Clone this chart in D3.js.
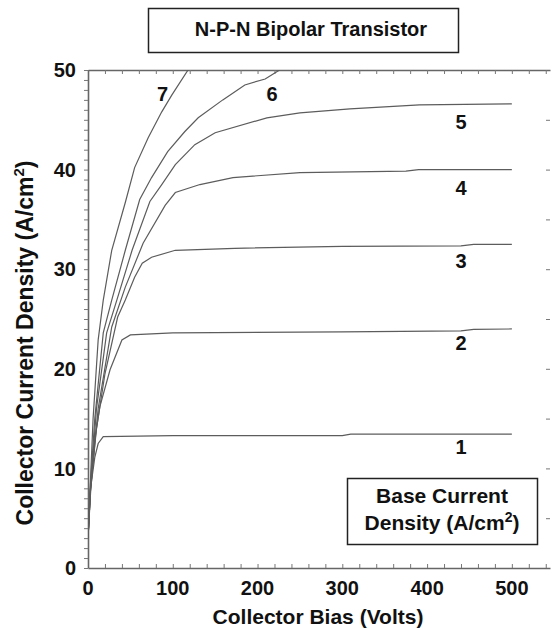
<!DOCTYPE html>
<html>
<head>
<meta charset="utf-8">
<script src="https://cdn.jsdelivr.net/npm/d3@7"></script>
<style>
  html, body { margin: 0; padding: 0; background: #fff; }
  svg { display: block; }
  text { font-family: "Liberation Sans", Arial, sans-serif; font-weight: bold; fill: #111; }
</style>
</head>
<body>
<svg id="chart" width="552" height="630"></svg>
<script>
// ---------- data (Collector Bias V, Collector Current Density A/cm2) ----------
const curve1 = [[0,3],[3,8],[8,11.1],[12,12.5],[18,13.2],[100,13.3],[300,13.3],[310,13.45],[500,13.45]];
const curve2 = [[0,3],[3,7.5],[8,12.9],[14,16.2],[26,19.9],[40,22.9],[50,23.4],[100,23.6],[300,23.7],[440,23.8],[455,23.95],[500,24]];
const curve3 = [[0,3],[3,8],[10,14],[20,19.5],[35,25.2],[44,26.9],[55,29.2],[64,30.6],[75,31.2],[103,31.9],[173,32.1],[300,32.3],[440,32.35],[455,32.5],[500,32.5]];
const curve4 = [[0,3],[3,8],[12,16],[28,24.2],[44,28.2],[65,32.6],[91,36.4],[103,37.7],[132,38.5],[171,39.2],[250,39.7],[375,39.85],[390,40],[500,40]];
const curve5 = [[0,3],[3,8],[10,16],[22,23.6],[34,26.9],[52,31.9],[73,36.8],[87,38.5],[103,40.5],[126,42.5],[150,43.7],[211,45.2],[250,45.7],[309,46.1],[391,46.5],[500,46.6]];
const curve6 = [[0,3],[3,8.5],[8,15],[18,23.6],[28,26.9],[44,31.9],[61,37],[75,39.2],[94,41.8],[114,43.8],[130,45.2],[159,47],[185,48.5],[209,49.1],[226,50],[240,51]];
const curve7 = [[0,3],[3,9],[6,15],[12,22.9],[18,26.9],[28,31.9],[44,36.7],[55,40.2],[71,43.2],[87,45.8],[99,47.5],[118,50],[125,51]];
const curves = [curve1, curve2, curve3, curve4, curve5, curve6, curve7];

const curveLabels = ["1","2","3","4","5","6","7"];
// label anchor positions in data units
const labelV = [440, 440, 440, 440, 440, 217, 88];
const labelJ = [11.45, 21.9, 30.1, 37.5, 44.1, 46.9, 46.9];

const xTicks = [0, 100, 200, 300, 400, 500];
const yTicks = [0, 10, 20, 30, 40, 50];

const titleText = "N-P-N Bipolar Transistor";
const xTitle = "Collector Bias (Volts)";
const legendLine1 = "Base Current";

// ---------- layout ----------
const svg = d3.select("#chart");
const x = d3.scaleLinear().domain([0, 545]).range([88, 550]);
const y = d3.scaleLinear().domain([0, 50]).range([568, 70]);
const axisColor = "#666";

// clip
svg.append("defs").append("clipPath").attr("id", "plotClip")
  .append("rect").attr("x", x(0)).attr("y", y(50)).attr("width", x(545) - x(0)).attr("height", y(0) - y(50));

// Bottom axis (ticks inward)
const gB = svg.append("g").attr("transform", `translate(0,${y(0)})`)
  .call(d3.axisBottom(x).tickValues(d3.range(0, 541, 20)).tickSize(-4).tickSizeOuter(0).tickFormat(""));
// Top axis (ticks inward)
const gT = svg.append("g").attr("transform", `translate(0,${y(50)})`)
  .call(d3.axisTop(x).tickValues(d3.range(0, 541, 20)).tickSize(-4).tickSizeOuter(0).tickFormat(""));
// Left axis (ticks outward)
const gL = svg.append("g").attr("transform", `translate(${x(0)},0)`)
  .call(d3.axisLeft(y).tickValues(d3.range(0, 51, 1)).tickSize(4).tickSizeOuter(0).tickFormat(""));
// Right side ticks
const gR = svg.append("g").attr("transform", `translate(${x(545)},0)`)
  .call(d3.axisRight(y).tickValues(d3.range(5, 50, 5)).tickSize(-4).tickSizeOuter(0).tickFormat(""));
gR.select(".domain").remove();

[gB, gT, gL, gR].forEach(g => {
  g.selectAll(".domain").attr("stroke", axisColor).attr("stroke-width", 1.6);
  g.selectAll(".tick line").attr("stroke", "#777").attr("stroke-width", 1);
});

// tick labels
svg.append("g").selectAll("text").data(xTicks).join("text")
  .attr("x", d => x(d)).attr("y", 595)
  .attr("text-anchor", "middle").attr("font-size", 20)
  .text(d => d);
svg.append("g").selectAll("text").data(yTicks).join("text")
  .attr("x", 76).attr("y", d => y(d)).attr("dy", "0.36em")
  .attr("text-anchor", "end").attr("font-size", 20)
  .text(d => d);

// curves
const line = d3.line().x(d => x(d[0])).y(d => y(d[1])).curve(d3.curveLinear);
svg.append("g").attr("clip-path", "url(#plotClip)")
  .selectAll("path").data(curves).join("path")
  .attr("d", line).attr("fill", "none")
  .attr("stroke", "#5c5c5c").attr("stroke-width", 1.2);

// curve labels
svg.append("g").selectAll("text").data(curveLabels).join("text")
  .attr("x", (d, i) => x(labelV[i])).attr("y", (d, i) => y(labelJ[i]))
  .attr("text-anchor", "middle").attr("font-size", 20)
  .text(d => d);

// title box
svg.append("rect").attr("x", 148.5).attr("y", 8.5).attr("width", 310).attr("height", 44)
  .attr("fill", "#fff").attr("stroke", "#222").attr("stroke-width", 1.5);
svg.append("text").attr("x", 311).attr("y", 36).attr("text-anchor", "middle")
  .attr("font-size", 20).text(titleText);

// axis titles
svg.append("text").attr("x", 318).attr("y", 624).attr("text-anchor", "middle")
  .attr("font-size", 21).text(xTitle);
const yT = svg.append("text").attr("transform", "translate(33,343) rotate(-90)")
  .attr("text-anchor", "middle").attr("font-size", 23);
yT.append("tspan").text("Collector Current Density (A/cm");
yT.append("tspan").attr("font-size", 15).attr("dy", -9).text("2");
yT.append("tspan").attr("dy", 9).text(")");

// legend box
svg.append("rect").attr("x", 347.5).attr("y", 478.5).attr("width", 190).attr("height", 66)
  .attr("fill", "#fff").attr("stroke", "#222").attr("stroke-width", 1.5);
svg.append("text").attr("x", 442).attr("y", 503).attr("text-anchor", "middle")
  .attr("font-size", 21).text(legendLine1);
const lg2 = svg.append("text").attr("x", 442).attr("y", 530).attr("text-anchor", "middle")
  .attr("font-size", 21);
lg2.append("tspan").text("Density (A/cm");
lg2.append("tspan").attr("font-size", 14).attr("dy", -8).text("2");
lg2.append("tspan").attr("dy", 8).text(")");
</script>
</body>
</html>
